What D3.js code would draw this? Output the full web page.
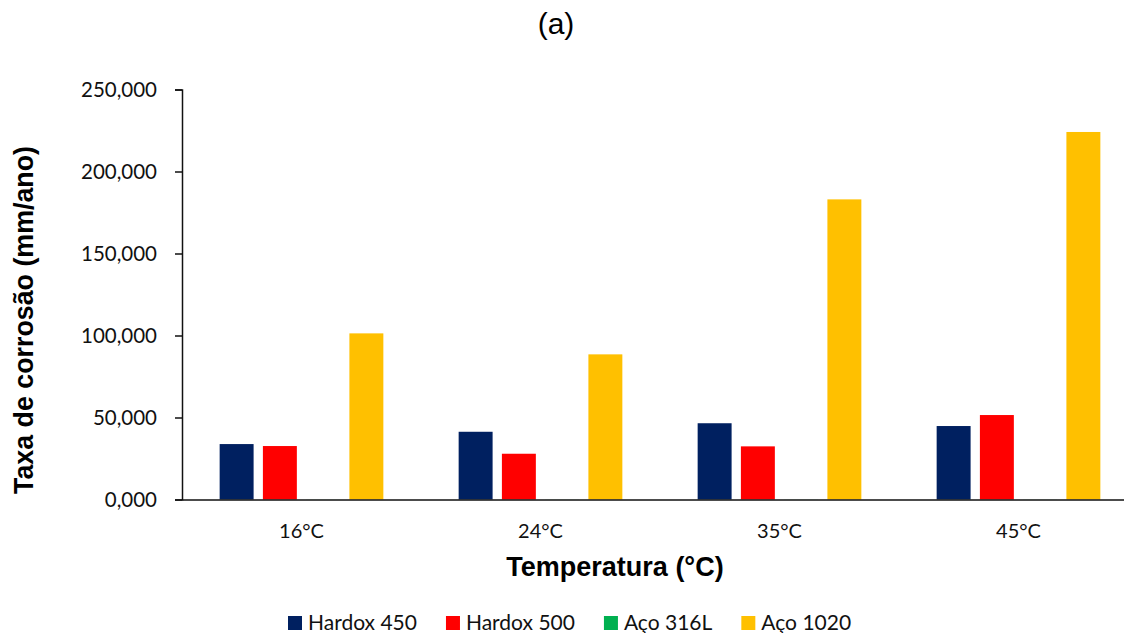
<!DOCTYPE html>
<html>
<head>
<meta charset="utf-8">
<script src="https://cdn.jsdelivr.net/npm/d3@7"></script>
<style>
  body { margin: 0; background: #fff; }
  svg { display: block; }
</style>
</head>
<body>
<div id="wrapper"></div>
<script>
var temperaturas = ["16°C", "24°C", "35°C", "45°C"];
var series = ["Hardox 450", "Hardox 500", "Aço 316L", "Aço 1020"];
var cores = ["#002060", "#FF0000", "#00B050", "#FFC000"];
var hardox450 = [33.8, 41.3, 46.5, 44.8];
var hardox500 = [32.6, 27.9, 32.4, 51.5];
var aco316L = [0.05, 0.05, 0.05, 0.05];
var aco1020 = [101.3, 88.5, 183.0, 224.1];
var yTicks = [0, 50, 100, 150, 200, 250];

var valores = [hardox450, hardox500, aco316L, aco1020];

var W = 1124, H = 633;
var fonteCal = 'Lato, "Open Sans", sans-serif';
var fonteArial = 'Arial, "Liberation Sans", sans-serif';

var svg = d3.select('#wrapper')
  .append('svg')
  .attr('width', W)
  .attr('height', H);

var y = d3.scaleLinear().domain([0, 250]).range([499.5, 89.5]);
var x0 = d3.scaleBand().domain(temperaturas).range([182, 1138]);
var x1 = d3.scaleBand().domain(series)
  .range([33, x0.bandwidth() - 33])
  .paddingInner(0.215).paddingOuter(0.1075);

// bars
var grupos = svg.selectAll('g.grupo')
  .data(temperaturas)
  .enter()
  .append('g')
  .attr('class', 'grupo')
  .attr('transform', function(d) { return 'translate(' + x0(d) + ',0)'; });

grupos.selectAll('rect')
  .data(function(d, i) {
    return series.map(function(s, j) { return { serie: s, v: valores[j][i], cor: cores[j] }; });
  })
  .enter()
  .append('rect')
  .attr('x', function(d) { return x1(d.serie); })
  .attr('y', function(d) { return y(d.v); })
  .attr('width', x1.bandwidth())
  .attr('height', function(d) { return y(0) - y(d.v); })
  .style('fill', function(d) { return d.cor; });

// y axis
var yAxis = d3.axisLeft(y)
  .tickValues(yTicks)
  .tickSize(7)
  .tickPadding(18)
  .tickFormat(function(d) { return d3.format('.3f')(d).replace('.', ','); });

var gy = svg.append('g')
  .attr('transform', 'translate(182,0)')
  .call(yAxis);
gy.select('.domain').attr('stroke', '#111').attr('stroke-width', 1.5);
gy.selectAll('.tick line').attr('stroke', '#111').attr('stroke-width', 1.5);
gy.selectAll('.tick text')
  .style('font-family', fonteCal)
  .style('font-size', '20.5px')
  .attr('fill', '#111');

// x axis
var xAxis = d3.axisBottom(x0).tickSize(0).tickPadding(24);
var gx = svg.append('g')
  .attr('transform', 'translate(0,' + y(0) + ')')
  .call(xAxis);
gx.select('.domain').attr('stroke', '#111').attr('stroke-width', 1.5);
gx.selectAll('.tick text')
  .style('font-family', fonteCal)
  .style('font-size', '20px')
  .attr('fill', '#111');

// titles
svg.append('text')
  .attr('x', 556).attr('y', 34)
  .attr('text-anchor', 'middle')
  .style('font-family', fonteArial)
  .style('font-size', '30px')
  .text('(a)');

svg.append('text')
  .attr('x', 615).attr('y', 576)
  .attr('text-anchor', 'middle')
  .style('font-family', fonteArial)
  .style('font-size', '27px')
  .style('font-weight', 'bold')
  .text('Temperatura (°C)');

svg.append('text')
  .attr('transform', 'translate(33,320) rotate(-90)')
  .attr('text-anchor', 'middle')
  .style('font-family', fonteArial)
  .style('font-size', '26.8px')
  .style('font-weight', 'bold')
  .text('Taxa de corrosão (mm/ano)');

// legend
var leg = svg.append('g').attr('transform', 'translate(288,616)');
var cursor = 0;
series.forEach(function(s, i) {
  var item = leg.append('g').attr('transform', 'translate(' + cursor + ',0)');
  item.append('rect')
    .attr('width', 14).attr('height', 14)
    .style('fill', cores[i]);
  var t = item.append('text')
    .attr('x', 20).attr('y', 13.5)
    .style('font-family', fonteCal)
    .style('font-size', '21px')
    .attr('fill', '#111')
    .text(s);
  cursor += 20 + t.node().getComputedTextLength() + 29;
});
</script>
</body>
</html>
